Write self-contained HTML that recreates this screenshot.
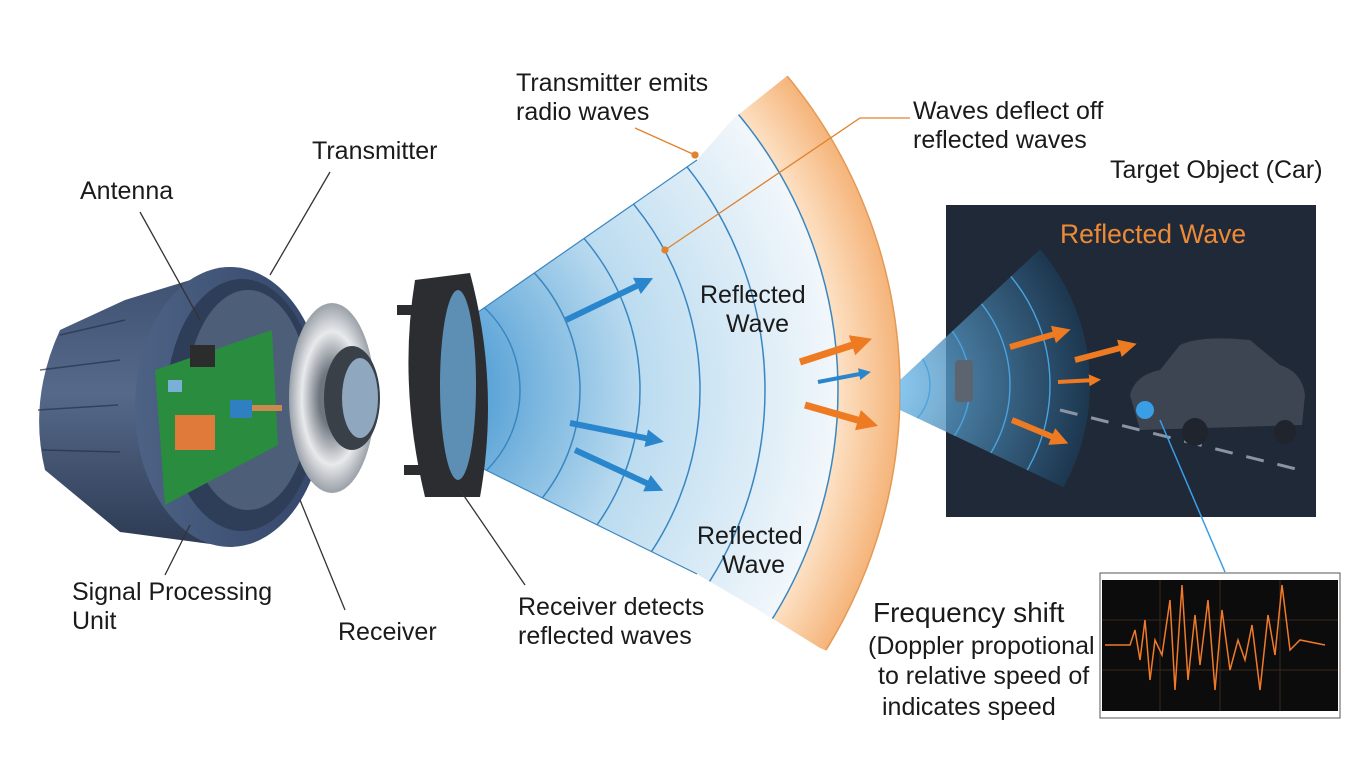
<!DOCTYPE html>
<html><head><meta charset="utf-8"><style>
html,body{margin:0;padding:0;background:#fff;overflow:hidden;width:1365px;height:768px;}
svg{display:block;font-family:"Liberation Sans",Arial,sans-serif;}
</style></head><body>
<svg width="1365" height="768" viewBox="0 0 1365 768" xmlns="http://www.w3.org/2000/svg">
<defs>
<radialGradient id="fanG" gradientUnits="userSpaceOnUse" cx="407" cy="390" r="431">
<stop offset="0.2" stop-color="#5fa6d8"/><stop offset="0.55" stop-color="#bcdcf0"/><stop offset="1" stop-color="#f2f7fb"/></radialGradient>
<radialGradient id="orG" gradientUnits="userSpaceOnUse" cx="407" cy="390" r="493">
<stop offset="0.87" stop-color="#fde2c6"/><stop offset="1" stop-color="#f5b47a"/></radialGradient>
<radialGradient id="fan2" gradientUnits="userSpaceOnUse" cx="880" cy="385" r="210">
<stop offset="0.1" stop-color="#6ab8ea"/><stop offset="1" stop-color="#1c3a55"/></radialGradient>
<clipPath id="c1"><polygon points="445,335 697,160 733,119 787,76 1000,40 1000,720 820,648 757,609 697,574 445,450"/></clipPath>
<clipPath id="c2"><polygon points="900,380 1050,240 1120,390 1080,495 900,410"/></clipPath>
<linearGradient id="body" x1="0" x2="0" y1="0" y2="1"><stop offset="0" stop-color="#3e5070"/><stop offset="0.45" stop-color="#56698a"/><stop offset="1" stop-color="#2c3a52"/></linearGradient>
<linearGradient id="rim" x1="0" x2="1"><stop offset="0" stop-color="#4d6284"/><stop offset="1" stop-color="#34466a"/></linearGradient>
<radialGradient id="silver" cx="0.5" cy="0.5" r="0.5"><stop offset="0.3" stop-color="#6f7680"/><stop offset="0.7" stop-color="#e8eaec"/><stop offset="1" stop-color="#9aa0a8"/></radialGradient>
<marker id="ab" viewBox="0 0 10 10" refX="5" refY="5" markerWidth="3" markerHeight="3" orient="auto"><path d="M0,0L10,5L0,10z" fill="#2a86cc"/></marker>
<marker id="ao" viewBox="0 0 10 10" refX="5" refY="5" markerWidth="3" markerHeight="3" orient="auto"><path d="M0,0L10,5L0,10z" fill="#ee7a22"/></marker>
</defs>

<g clip-path="url(#c1)">
<circle cx="407" cy="390" r="493" fill="url(#orG)"/>
<circle cx="407" cy="390" r="493" fill="none" stroke="#e39a55" stroke-width="1.5"/>
<circle cx="407" cy="390" r="431" fill="url(#fanG)"/>
<g fill="none" stroke="#3a86c0" stroke-width="1.5">
<circle cx="407" cy="390" r="431"/><circle cx="407" cy="390" r="358"/><circle cx="407" cy="390" r="293"/><circle cx="407" cy="390" r="233"/><circle cx="407" cy="390" r="173"/><circle cx="407" cy="390" r="113"/></g>
</g>
<line x1="445" y1="335" x2="697" y2="160" stroke="#3a86c0" stroke-width="1.2"/>
<line x1="445" y1="450" x2="697" y2="574" stroke="#3a86c0" stroke-width="1.2"/>

<g stroke="#2a86cc" stroke-width="6" marker-end="url(#ab)">
<line x1="566" y1="320" x2="645" y2="282"/><line x1="570" y1="423" x2="655" y2="440"/><line x1="575" y1="450" x2="655" y2="487"/>
<line x1="818" y1="382" x2="865" y2="373" stroke-width="4"/></g>
<g stroke="#ee7a22" stroke-width="7" marker-end="url(#ao)">
<line x1="800" y1="362" x2="862" y2="342"/><line x1="805" y1="405" x2="868" y2="423"/></g>

<path d="M125,300 L60,330 Q28,400 45,470 L120,532 L233,547 L233,267 Z" fill="url(#body)"/>
<g stroke="#24324a" stroke-width="1.5" opacity="0.7"><line x1="40" y1="370" x2="120" y2="360"/><line x1="38" y1="410" x2="118" y2="405"/><line x1="42" y1="450" x2="120" y2="452"/><line x1="60" y1="335" x2="125" y2="320"/></g>
<ellipse cx="230" cy="407" rx="95" ry="140" fill="url(#rim)"/>
<ellipse cx="242" cy="405" rx="76" ry="126" fill="#2f3e58"/>
<ellipse cx="248" cy="400" rx="62" ry="110" fill="#4c5e78"/>
<path d="M155,370 L272,330 L278,445 L165,505 Z" fill="#2a8c3e"/>
<rect x="190" y="345" width="25" height="22" fill="#2c2c2c"/>
<rect x="175" y="415" width="40" height="35" fill="#e07a3a"/>
<rect x="230" y="400" width="22" height="18" fill="#2f80c0"/>
<rect x="252" y="405" width="30" height="6" fill="#c88a50"/>
<rect x="168" y="380" width="14" height="12" fill="#7ab0d8"/>
<ellipse cx="332" cy="398" rx="43" ry="95" fill="url(#silver)"/>
<ellipse cx="352" cy="398" rx="28" ry="52" fill="#3a4048"/>
<ellipse cx="360" cy="398" rx="18" ry="40" fill="#8fa8c0"/>
<path d="M415,280 L470,273 Q500,385 480,497 L425,497 Q398,385 415,280Z" fill="#2b2d31"/>
<rect x="397" y="305" width="25" height="10" fill="#2b2d31"/><rect x="404" y="465" width="25" height="10" fill="#2b2d31"/>
<ellipse cx="458" cy="385" rx="18" ry="95" fill="#6aa8d6" opacity="0.8"/>

<rect x="946" y="205" width="370" height="312" fill="#1f2937"/>
<g clip-path="url(#c2)">
<circle cx="880" cy="385" r="210" fill="url(#fan2)" opacity="0.8"/>
<g fill="none" stroke="#4aa3e0" stroke-width="1.4"><circle cx="880" cy="385" r="50"/><circle cx="880" cy="385" r="90"/><circle cx="880" cy="385" r="130"/><circle cx="880" cy="385" r="170"/></g>
</g>
<rect x="955" y="360" width="18" height="42" rx="4" fill="#5c6470"/>
<g stroke="#ee7a22" stroke-width="6" marker-end="url(#ao)">
<line x1="1010" y1="347" x2="1062" y2="332"/><line x1="1075" y1="360" x2="1128" y2="346"/><line x1="1058" y1="382" x2="1095" y2="380" stroke-width="4"/><line x1="1012" y1="420" x2="1060" y2="440"/></g>
<g stroke="#8a94a3" stroke-width="3" stroke-dasharray="18 14"><line x1="1060" y1="410" x2="1300" y2="470"/></g>
<path d="M1130,395 Q1135,375 1160,370 L1180,345 Q1200,335 1250,340 L1280,365 Q1302,372 1305,395 L1302,425 L1140,430 Z" fill="#3d4452"/>
<circle cx="1145" cy="410" r="9" fill="#3a9ee6"/>
<ellipse cx="1195" cy="432" rx="13" ry="14" fill="#20242c"/><ellipse cx="1285" cy="432" rx="11" ry="12" fill="#20242c"/>
<text x="1060" y="243" font-size="26.5" fill="#ee8a35">Reflected Wave</text>
<line x1="1160" y1="420" x2="1225" y2="572" stroke="#3a9ee6" stroke-width="1.5"/>

<rect x="1100" y="573" width="240" height="145" fill="#fff" stroke="#555"/>
<rect x="1102" y="580" width="236" height="131" fill="#0c0c0c"/>
<g stroke="#3a2a1a" stroke-width="1"><line x1="1102" y1="620" x2="1338" y2="620"/><line x1="1102" y1="670" x2="1338" y2="670"/><line x1="1160" y1="580" x2="1160" y2="711"/><line x1="1220" y1="580" x2="1220" y2="711"/><line x1="1280" y1="580" x2="1280" y2="711"/></g>
<polyline fill="none" stroke="#f07a2a" stroke-width="1.5" points="1105,645 1130,645 1135,630 1140,660 1145,620 1150,680 1155,640 1162,655 1170,600 1175,690 1182,585 1188,680 1195,615 1200,665 1208,600 1215,690 1222,610 1230,670 1238,640 1245,660 1252,625 1260,690 1268,615 1275,655 1282,585 1290,650 1300,640 1325,645"/>

<g font-size="25" fill="#1a1a1a">
<text x="516" y="91">Transmitter emits</text><text x="516" y="120">radio waves</text>
<text x="913" y="119">Waves deflect off</text><text x="913" y="148">reflected waves</text>
<text x="1110" y="178">Target Object (Car)</text>
<text x="312" y="159">Transmitter</text>
<text x="80" y="199">Antenna</text>
<text x="700" y="303">Reflected</text><text x="726" y="332">Wave</text>
<text x="697" y="544">Reflected</text><text x="722" y="573">Wave</text>
<text x="72" y="600">Signal Processing</text><text x="72" y="629">Unit</text>
<text x="338" y="640">Receiver</text>
<text x="518" y="615">Receiver detects</text><text x="518" y="644">reflected waves</text>
<text x="873" y="622" font-size="28">Frequency shift</text>
<text x="868" y="654">(Doppler propotional</text>
<text x="878" y="684">to relative speed of</text>
<text x="882" y="715">indicates speed</text>
</g>
<g stroke="#333" stroke-width="1.3" fill="none">
<line x1="330" y1="172" x2="270" y2="275"/>
<line x1="140" y1="212" x2="200" y2="320"/>
<line x1="165" y1="575" x2="190" y2="525"/>
<line x1="345" y1="610" x2="300" y2="500"/>
<line x1="525" y1="585" x2="460" y2="490"/>
</g>
<g stroke="#e0822e" stroke-width="1.3" fill="#e0822e">
<polyline points="635,128 695,155" fill="none"/><circle cx="695" cy="155" r="3"/>
<polyline points="910,118 860,118 665,250" fill="none"/><circle cx="665" cy="250" r="3"/>
</g>
</svg>
</body></html>
